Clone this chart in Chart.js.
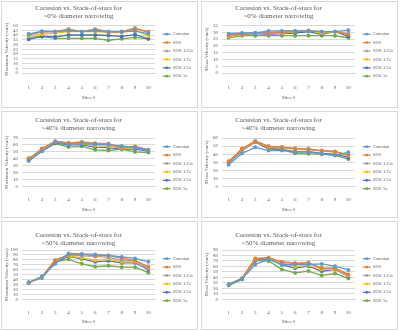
<!DOCTYPE html>
<html><head><meta charset="utf-8">
<script src="https://cdn.jsdelivr.net/npm/chart.js@4/dist/chart.umd.min.js"></script>
<style>
html,body{margin:0;padding:0;background:#fff;width:400px;height:331px;overflow:hidden}
.p{position:absolute;border:1px solid #d9d9d9;box-sizing:border-box;width:197px;height:107px;background:#fff}
.p canvas{display:block}
</style></head><body>
<div class="p" style="left:1px;top:1px"><canvas id="c1" width="195" height="105"></canvas></div>
<div class="p" style="left:201px;top:1px"><canvas id="c2" width="195" height="105"></canvas></div>
<div class="p" style="left:1px;top:111px"><canvas id="c3" width="195" height="105"></canvas></div>
<div class="p" style="left:201px;top:111px"><canvas id="c4" width="195" height="105"></canvas></div>
<div class="p" style="left:1px;top:221px;height:109px"><canvas id="c5" width="195" height="107"></canvas></div>
<div class="p" style="left:201px;top:221px;height:109px"><canvas id="c6" width="195" height="107"></canvas></div>
<script>
const slices = ['1','2','3','4','5','6','7','8','9','10'];
const seriesLabels = ['Cartesian','SOS','SOS: 1.25x','SOS: 1.7x','SOS: 2.5x','SOS: 5x'];
const titleLine1 = 'Cartesian vs. Stack-of-stars for';

// ~0% narrowing, maximum velocity (cm/s)
const max0_cart   = [41, 44, 43.5, 44.5, 43.5, 44.5, 43.5, 43.5, 44, 41.5];
const max0_sos    = [41, 43, 43.5, 45.5, 43.5, 45.5, 43, 43.5, 46.5, 43.5];
const max0_sos125 = [40, 43.5, 43.5, 46.5, 43.5, 46.5, 43.5, 43.5, 47.5, 42.5];
const max0_sos17  = [39, 41, 42, 43.5, 43.5, 43.5, 42.5, 42.5, 45, 39];
const max0_sos25  = [35.5, 38.5, 38, 40, 40, 40, 39.5, 38.5, 40.5, 36];
const max0_sos5   = [37.5, 38.5, 36.5, 36.5, 36.5, 36.5, 34.5, 36, 37.5, 36];

// ~0% narrowing, mean velocity (cm/s)
const mean0_cart   = [29, 29.5, 29.5, 31, 31, 31, 31, 30.5, 30.5, 31.5];
const mean0_sos    = [27.5, 28.5, 29.5, 29.5, 30, 30.5, 31, 30.5, 30.5, 28.5];
const mean0_sos125 = [28, 29, 29.5, 30, 30.5, 31, 31, 30.5, 30.5, 29];
const mean0_sos17  = [27, 28.5, 29.5, 29, 29.5, 30.5, 31.5, 29.5, 30.5, 28.5];
const mean0_sos25  = [27.5, 28.5, 29, 28.5, 29, 29.5, 30.5, 28.5, 30.5, 27];
const mean0_sos5   = [26, 27.5, 27.5, 27.5, 27.5, 27.5, 27.5, 27.5, 27.5, 26];

// ~40% narrowing, maximum velocity
const max40_cart   = [37, 51, 64, 61, 62, 61, 60, 58.5, 56, 52];
const max40_sos    = [39, 55, 65, 63, 64, 62, 61, 56, 58, 53];
const max40_sos125 = [39, 54, 65.5, 63, 64.5, 62.5, 62, 56, 58, 53];
const max40_sos17  = [39, 53, 64, 62, 62, 59, 58, 55, 56, 52];
const max40_sos25  = [37.5, 51, 63, 60, 60, 57, 56, 54, 54, 51];
const max40_sos5   = [41, 52, 62, 57, 58, 53, 52, 54, 50, 49];

// ~40% narrowing, mean velocity
const mean40_cart   = [27, 41, 48.5, 44.5, 44.5, 43, 43, 40.5, 38.5, 42.5];
const mean40_sos    = [30, 47, 55.5, 49.5, 48.5, 47, 46, 44.5, 43.5, 39];
const mean40_sos125 = [30, 46.5, 56.5, 50, 49, 47, 47, 44, 43, 39];
const mean40_sos17  = [30.5, 45.5, 55.5, 48.5, 48, 46, 45.5, 44, 42.5, 38];
const mean40_sos25  = [29, 44.5, 55, 47, 46, 43, 43, 41, 40, 36];
const mean40_sos5   = [31.5, 44.5, 56, 47, 45.5, 41, 40.5, 40, 38.5, 34];

// ~50% narrowing, maximum velocity
const max50_cart   = [34, 46, 72, 93, 92, 91, 89, 86, 83, 76];
const max50_sos    = [33, 46, 79, 90, 91, 88, 89, 83, 79, 66];
const max50_sos125 = [34, 45, 79, 90, 88, 87, 85, 79, 78, 63];
const max50_sos17  = [34, 45, 80, 88, 84, 79, 82, 76, 76, 63];
const max50_sos25  = [34, 44, 75, 87, 82, 76, 78, 74, 74, 60];
const max50_sos5   = [34, 43, 76, 81, 72, 66, 68, 65, 65, 54];

// ~50% narrowing, mean velocity
const mean50_cart   = [27, 37, 63.5, 73, 63.5, 63.5, 63.5, 64.5, 60.5, 53.5];
const mean50_sos    = [27, 38, 74, 76, 68.5, 66, 67, 57, 57, 45.5];
const mean50_sos125 = [27, 38, 73, 75.5, 68, 65, 66, 56, 57, 45];
const mean50_sos17  = [27, 37.5, 75, 75, 66.5, 59.5, 62, 54.5, 55.5, 43.5];
const mean50_sos25  = [26.5, 37, 72, 74, 63, 57, 60.5, 51, 54.5, 42];
const mean50_sos5   = [25, 36, 70, 70, 54.5, 48, 51.5, 43.5, 47, 38];

const colors = ['#5B9BD5','#ED7D31','#A5A5A5','#FFC000','#4472C4','#70AD47'];
const FONT = '"Liberation Serif", "Times New Roman", serif';
const TXT = '#595959';

// per-row vertical spacing (title padding, x-axis paddings, bottom padding)
const ROW_LAYOUT = [
  { tTop: 2.3, tBot: 5.2, tickPad: 3.5, xTitlePad: 0.2, bottom: 6.7 },
  { tTop: 4,   tBot: 6,   tickPad: 2.5, xTitlePad: 0.7, bottom: 4.7 },
  { tTop: 9,   tBot: 3,   tickPad: 2.7, xTitlePad: 0.4, bottom: 4 }
];

const legendPlugin = {
  id: 'xlLegend',
  afterDraw(chart) {
    const ctx = chart.ctx, ca = chart.chartArea;
    const x0 = ca.right + 8;
    ctx.save();
    ctx.font = '4.3px ' + FONT;
    ctx.textBaseline = 'middle';
    chart.data.datasets.forEach((ds, i) => {
      const y = ca.top + 8.7 + i * 8.4;
      ctx.strokeStyle = ds.borderColor;
      ctx.lineWidth = 1.3;
      ctx.beginPath(); ctx.moveTo(x0, y); ctx.lineTo(x0 + 7.5, y); ctx.stroke();
      ctx.fillStyle = ds.borderColor;
      ctx.beginPath(); ctx.arc(x0 + 3.75, y, 1.4, 0, Math.PI * 2); ctx.fill();
      ctx.fillStyle = TXT;
      ctx.fillText(ds.label, x0 + 10, y);
    });
    ctx.restore();
  }
};

function makeChart(id, row, yTitle, line2, yMax, yStep, series) {
  const L = ROW_LAYOUT[row];
  new Chart(document.getElementById(id), {
    type: 'line',
    data: {
      labels: slices,
      datasets: series.map((d, i) => ({
        label: seriesLabels[i], data: d,
        borderColor: colors[i], backgroundColor: colors[i],
        borderWidth: 1.3, pointRadius: 1.3, pointStyle: 'circle', tension: 0
      }))
    },
    options: {
      responsive: false, animation: false, devicePixelRatio: 1,
      layout: { padding: { left: 0, right: 42, top: 0, bottom: L.bottom } },
      plugins: {
        legend: { display: false }, tooltip: { enabled: false },
        title: {
          display: true, text: [titleLine1, line2], color: TXT,
          font: { family: FONT, size: 7, weight: 'normal', lineHeight: 8 / 7 },
          padding: { top: L.tTop, bottom: L.tBot }
        }
      },
      scales: {
        x: {
          offset: true,
          grid: { display: false },
          border: { display: true, color: '#d9d9d9' },
          ticks: { color: TXT, font: { family: FONT, size: 5 }, padding: L.tickPad, maxRotation: 0, autoSkip: false },
          title: { display: true, text: 'Slice #', color: TXT, font: { family: FONT, size: 5 }, padding: { top: L.xTitlePad, bottom: 0 } }
        },
        y: {
          min: 0, max: yMax,
          afterFit: (s) => { s.width = 20; },
          ticks: { stepSize: yStep, color: TXT, font: { family: FONT, size: 5 }, padding: 4, autoSkip: false },
          grid: { color: '#d9d9d9', drawTicks: false },
          border: { display: false },
          title: { display: true, text: yTitle, color: TXT, font: { family: FONT, size: 5 }, padding: { top: 2, bottom: 0 } }
        }
      }
    },
    plugins: [legendPlugin]
  });
}

const MAXT = 'Maximum Velocity (cm/s)';
const MEANT = 'Mean Velocity (cm/s)';
makeChart('c1', 0, MAXT, '~0% diameter narrowing', 50, 5,
  [max0_cart, max0_sos, max0_sos125, max0_sos17, max0_sos25, max0_sos5]);
makeChart('c2', 0, MEANT, '~0% diameter narrowing', 35, 5,
  [mean0_cart, mean0_sos, mean0_sos125, mean0_sos17, mean0_sos25, mean0_sos5]);
makeChart('c3', 1, MAXT, '~40% diameter narrowing', 70, 10,
  [max40_cart, max40_sos, max40_sos125, max40_sos17, max40_sos25, max40_sos5]);
makeChart('c4', 1, MEANT, '~40% diameter narrowing', 60, 10,
  [mean40_cart, mean40_sos, mean40_sos125, mean40_sos17, mean40_sos25, mean40_sos5]);
makeChart('c5', 2, MAXT, '~50% diameter narrowing', 100, 10,
  [max50_cart, max50_sos, max50_sos125, max50_sos17, max50_sos25, max50_sos5]);
makeChart('c6', 2, MEANT, '~50% diameter narrowing', 90, 10,
  [mean50_cart, mean50_sos, mean50_sos125, mean50_sos17, mean50_sos25, mean50_sos5]);
</script>
</body></html>
